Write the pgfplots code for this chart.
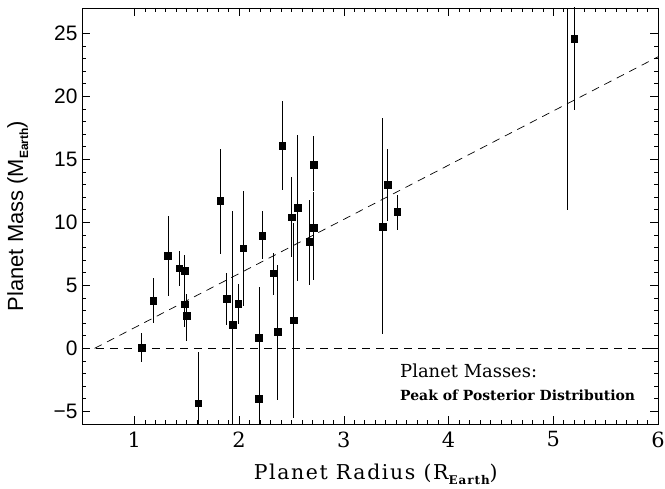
\documentclass[border=0pt]{standalone}
\usepackage{fontspec}
\setmainfont{DejaVu Serif}
\newfontfamily\ysans{Liberation Sans}
\usepackage{pgfplots}
\usepackage{pgfplotstable}
\pgfplotsset{compat=1.18}

% x, peak mass, +err, -err
\pgfplotstableread{
x     y      ep    em
1.07  0.05   1.17  1.15
1.18  3.79   1.80  1.81
1.32  7.33   3.17  3.20
1.43  6.35   1.38  1.43
1.48  6.17   1.24  2.20
1.48  3.49   1.06  1.82
1.50  2.60   1.70  2.00
1.61  -4.34  4.08  5.00
1.82  11.70  4.15  4.21
1.88  3.94   2.04  2.08
1.94  1.90   9.00  10.0
1.99  3.55   1.55  1.65
2.04  7.94   4.52  4.61
2.19  0.85   1.48  4.05
2.19  -4.00  8.84  5.00
2.22  8.92   1.98  1.82
2.33  5.95   1.62  1.69
2.37  1.33   5.31  5.40
2.41  16.10  3.50  3.50
2.50  10.40  3.17  3.18
2.52  2.22   7.76  7.78
2.56  11.14  5.76  5.82
2.67  8.44   3.36  3.38
2.71  14.58  2.25  2.10
2.71  9.58   2.80  4.15
3.37  9.66   8.59  8.52
3.42  12.97  2.88  2.89
3.51  10.82  1.38  1.42
5.20  24.56  5.00  5.69
}\masses

\newcommand{\sub}[1]{\raisebox{-0.45ex}{\fontsize{12}{12}\selectfont\bfseries #1}}

\begin{document}
\begin{tikzpicture}
\useasboundingbox (-82bp,-65bp) rectangle (583bp,424bp);
\begin{axis}[
  scale only axis,
  width=576bp, height=416bp,
  xmin=0.5, xmax=6, ymin=-6, ymax=27,
  xtick={1,2,...,6},
  ytick={-5,0,5,10,15,20,25},
  yticklabels={−5,0,5,10,15,20,25},
  minor x tick num=9,
  minor y tick num=4,
  tick align=inside,
  major tick length=8bp,
  minor tick length=4bp,
  tick style={black, line width=0.6pt},
  axis line style={line width=0.8pt},
  /pgf/number format/assume math mode=true,
  xticklabel style={font=\fontsize{21}{21}\selectfont, yshift=-4bp},
  yticklabel style={font=\ysans\fontsize{21}{21}\selectfont, xshift=-1bp},
  xlabel={Planet Radius (R\sub{Earth})},
  ylabel={Planet Mass (M\sub{\ysans Earth})},
  xlabel style={at={(axis description cs:0.51,-0.1346)}, anchor=base,
    font=\addfontfeatures{LetterSpace=8}\fontsize{20.5}{22}\selectfont},
  ylabel style={at={(axis description cs:-0.1024,0.5)}, anchor=base,
    font=\ysans\fontsize{22}{24}\selectfont},
  clip marker paths=true,
]
\addplot[black, dash pattern=on 8bp off 6bp, line width=0.7pt] coordinates {(0.5,0) (6,0)};
\addplot[black, dash pattern=on 8bp off 6bp, line width=0.7pt] coordinates {(0.62,0) (6,23.13)};
\addplot[black, line width=0.7pt] coordinates {(5.13,10.98) (5.13,27)};
\addplot[black, only marks, mark=square*, mark size=3.3bp,
  error bars/.cd, y dir=both, y explicit, error mark=none,
  error bar style={line width=0.7pt}]
  table[x=x, y=y, y error plus=ep, y error minus=em] {\masses};
\node[anchor=base west, font=\fontsize{18}{18}\selectfont] at (axis cs:3.505,-2.30) {Planet Masses:};
\node[anchor=base west, font=\bfseries\fontsize{14}{14}\selectfont] at (axis cs:3.505,-4.15) {Peak of Posterior Distribution};
\end{axis}
\end{tikzpicture}
\end{document}
